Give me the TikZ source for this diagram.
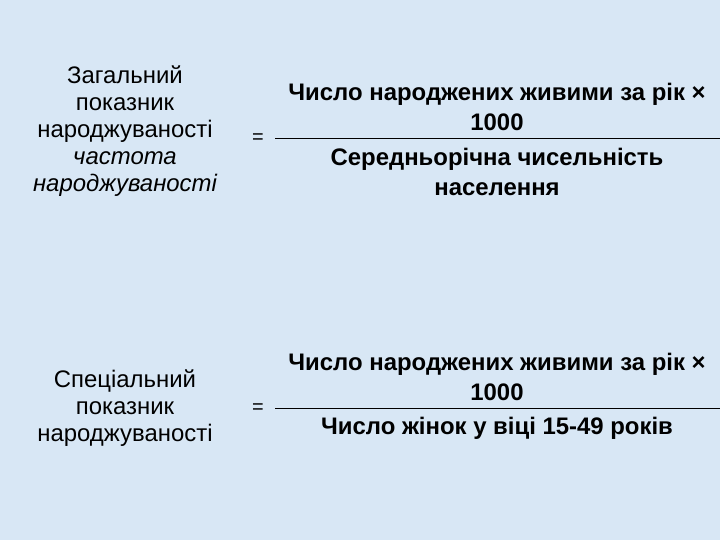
\documentclass[tikz,border=0pt]{standalone}
\usepackage{fontspec}
\setmainfont{Liberation Sans}
\definecolor{bg}{HTML}{D8E7F5}
\begin{document}
\begin{tikzpicture}[x=1bp,y=-1bp,
  lbl/.style={align=center,font=\fontsize{24}{27}\selectfont,inner sep=0},
  frac/.style={align=center,font=\fontsize{24}{30}\selectfont\bfseries,inner sep=0},
  eq/.style={font=\fontsize{20}{22}\selectfont,inner sep=0}]
\fill[bg] (0,0) rectangle (720,540);
\useasboundingbox (0,0) rectangle (720,540);
\node[lbl] (l1) at (125,131) {Загальний\\показник\\народжуваності\\\itshape частота\\\itshape народжуваності};
\node[eq] (e1) at (258,139) {=};
\coordinate (a1) at (275,138); \coordinate (b1) at (720,138);
\draw[line width=0.6pt] (a1) -- (b1);
\node[frac] (n1) at (497,107) {Число народжених живими за рік ×\\1000};
\node[frac] (d1) at (497,172) {Середньорічна чисельність\\населення};
\node[lbl] (l2) at (125,408) {Спеціальний\\показник\\народжуваності};
\node[eq] (e2) at (258,409) {=};
\coordinate (a2) at (275,408); \coordinate (b2) at (720,408);
\draw[line width=0.6pt] (a2) -- (b2);
\node[frac] (n2) at (497,377) {Число народжених живими за рік ×\\1000};
\node[frac] (d2) at (497,428) {Число жінок у віці 15-49 років};
\end{tikzpicture}
\end{document}
